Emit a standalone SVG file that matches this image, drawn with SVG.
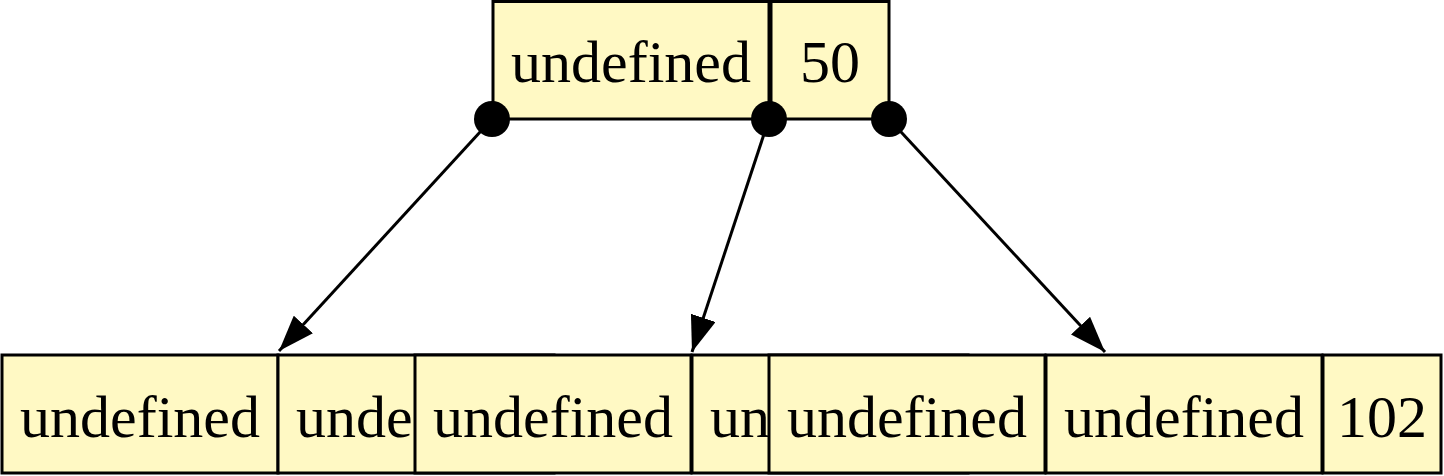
<svg xmlns="http://www.w3.org/2000/svg" width="1444" height="476" viewBox="0 0 1444 476">
<defs>
<style>
.box{fill:#fff9c4;stroke:#000;stroke-width:3}
.t{font-family:"Liberation Serif","DejaVu Serif",serif;font-size:60px;fill:#000;text-anchor:middle}
.ts{font-family:"Liberation Serif","DejaVu Serif",serif;font-size:60px;fill:#000;text-anchor:start}
.edge{stroke:#000;stroke-width:3;fill:none;marker-end:url(#ahb)}
.dot{fill:#000}
</style>
<marker id="ahb" viewBox="0 0 36 26" refX="36" refY="13" markerWidth="36" markerHeight="26" markerUnits="userSpaceOnUse" orient="auto">
<path d="M0,0 L36,13 L0,26 Z" fill="#000"/>
</marker>
</defs>
<rect width="1444" height="476" fill="#fff"/>
<g id="root">
<rect class="box" x="493" y="1.5" width="276" height="117.5"/>
<text class="t" x="631" y="82">undefined</text>
<rect class="box" x="771" y="1.5" width="118" height="117.5"/>
<text class="t" x="830" y="82">50</text>
</g>
<g id="child-a">
<rect class="box" x="2" y="355" width="276" height="118"/>
<text class="t" x="140" y="437">undefined</text>
</g>
<g id="child-b">
<rect class="box" x="278" y="355" width="276" height="118"/>
<text class="ts" x="296" y="437">unde</text>
</g>
<g id="child-c">
<rect class="box" x="415" y="355" width="276" height="118"/>
<text class="t" x="553" y="437">undefined</text>
</g>
<g id="child-d">
<rect class="box" x="692" y="355" width="276" height="118"/>
<text class="ts" x="710" y="437">un</text>
</g>
<g id="child-e">
<rect class="box" x="769" y="355" width="276" height="118"/>
<text class="t" x="907" y="437">undefined</text>
</g>
<g id="child-f">
<rect class="box" x="1046" y="355" width="276" height="118"/>
<text class="t" x="1184" y="437">undefined</text>
</g>
<g id="child-g">
<rect class="box" x="1323" y="355" width="118" height="118"/>
<text class="t" x="1382" y="437">102</text>
</g>
<g id="connectors">
<line class="edge" x1="492" y1="119" x2="279" y2="351"/>
<line class="edge" x1="769" y1="119" x2="692" y2="352"/>
<line class="edge" x1="889" y1="119" x2="1105" y2="352"/>
<circle class="dot" cx="492" cy="119" r="18"/>
<circle class="dot" cx="769" cy="119" r="18"/>
<circle class="dot" cx="889" cy="119" r="18"/>
</g>
</svg>
